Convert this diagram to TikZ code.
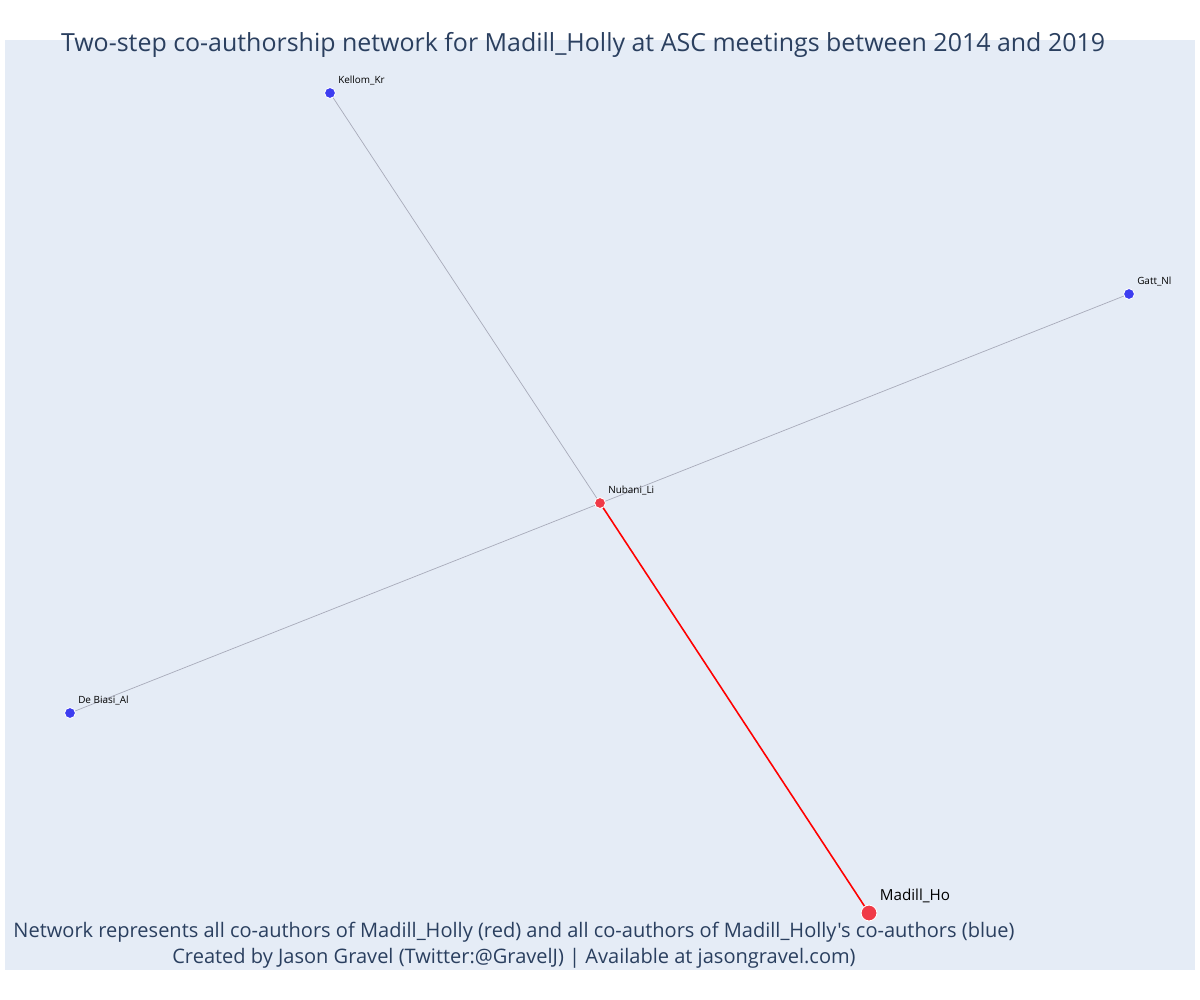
\documentclass[tikz,border=0pt]{standalone}
\usepackage{fontspec}
\setmainfont{Open Sans}[Ligatures=TeXOff]
\usepackage{tikz}
\usetikzlibrary{positioning}

\definecolor{plotbg}{HTML}{E5ECF6}
\definecolor{titlecol}{HTML}{2A3F5F}
\definecolor{egocol}{HTML}{F03A47}
\definecolor{altercol}{HTML}{3D3DF0}
\definecolor{edgecol}{HTML}{A8ABBA}

\tikzset{
  author/.style={circle,fill=altercol,draw=white,line width=0.5pt,inner sep=0pt,minimum size=6.2pt},
  ego/.style={author,fill=egocol},
  namelabel/.style={font=\fontsize{5.65}{6}\selectfont,text=black,inner sep=0pt,anchor=south west},
  twostep/.style={draw=edgecol,line width=0.4pt},
  onestep/.style={draw=red,line width=0.9pt}
}

\begin{document}
\begin{tikzpicture}[x=0.02cm,y=-0.02cm]
  \useasboundingbox (0,0) rectangle (1200,1000);
  \fill[white] (0,0) rectangle (1200,1000);
  \fill[plotbg] (5,40) rectangle (1195,970);
  % edges
  \coordinate (kellom) at (330,93);
  \coordinate (gatt) at (1129,294);
  \coordinate (nubani) at (600,503);
  \coordinate (debiasi) at (70,713);
  \coordinate (madill) at (869,913);
  \draw[twostep] (kellom) -- (nubani);
  \draw[twostep] (gatt) -- (debiasi);
  \draw[onestep] (nubani) -- (madill);
  % nodes
  \node[author] (kellomdot) at (kellom) {};
  \node[author] (gattdot) at (gatt) {};
  \node[author] (debiasidot) at (debiasi) {};
  \node[ego] (nubanidot) at (nubani) {};
  \node[ego,minimum size=9pt] (madilldot) at (madill) {};
  % labels
  \node[namelabel] at ([xshift=4.5pt,yshift=4.5pt]kellom) {Kellom\_Kr};
  \node[namelabel] at ([xshift=4.5pt,yshift=4.5pt]gatt) {Gatt\_Nl};
  \node[namelabel] at ([xshift=4.5pt,yshift=4.5pt]nubani) {Nubani\_Li};
  \node[namelabel] at ([xshift=4.5pt,yshift=4.5pt]debiasi) {De Biasi\_Al};
  \node[namelabel,font=\fontsize{8.65}{9}\selectfont] at ([xshift=6pt,yshift=5.8pt]madill) {Madill\_Ho};
  % title and footer
  \node[text=titlecol,font=\fontsize{14.2}{16}\selectfont] (title) at (583,45) {Two-step co-authorship network for Madill\_Holly at ASC meetings between 2014 and 2019};
  \node[text=titlecol,font=\fontsize{11.4}{14.8}\selectfont,align=center] (footer) at (514,945)
    {Network represents all co-authors of Madill\_Holly (red) and all co-authors of Madill\_Holly's co-authors (blue)\\
     Created by Jason Gravel (Twitter:@GravelJ) | Available at jasongravel.com)};
\end{tikzpicture}
\end{document}
